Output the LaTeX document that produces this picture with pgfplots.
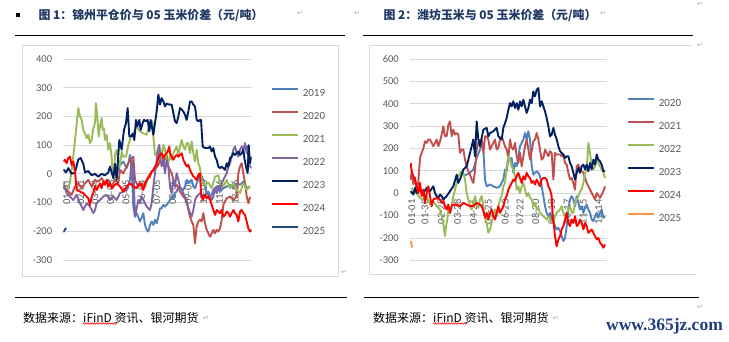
\documentclass[border=0pt]{standalone}
\usepackage{pgfplots}
\pgfplotsset{compat=1.18}
\usepackage{fontspec}
\setmainfont{Carlito}
\newfontfamily\cjk{Noto Sans CJK SC}
\newfontfamily\dejavu{DejaVu Sans}
\newfontfamily\wm{Liberation Serif}
\usetikzlibrary{decorations.pathmorphing}
\definecolor{cA}{RGB}{79,129,189}
\definecolor{cB}{RGB}{192,80,77}
\definecolor{cC}{RGB}{155,187,89}
\definecolor{cD}{RGB}{128,100,162}
\definecolor{cE}{RGB}{0,32,96}
\definecolor{cF}{RGB}{255,0,0}
\definecolor{cG}{RGB}{31,73,125}
\definecolor{cH}{RGB}{247,150,70}
\definecolor{gridc}{RGB}{217,217,217}
\definecolor{tickc}{RGB}{89,89,89}
\definecolor{titlec}{RGB}{31,56,100}
\definecolor{wmc}{RGB}{31,63,127}
\definecolor{markc}{RGB}{170,170,170}
\pgfplotsset{
  mychart/.style={
    scale only axis, axis line style={draw=none}, tick style={draw=none},
    major tick length=0pt, no markers,
    ymajorgrids, grid style={draw=gridc, line width=0.8pt},
    tick label style={font=\fontsize{10.5}{12}\selectfont, text=tickc},
    yticklabel style={anchor=east, inner sep=0pt, xshift=-11pt},
    xticklabel style={rotate=90, anchor=east, inner sep=0pt},
    legend style={draw=none, fill=none, inner sep=0pt, font=\fontsize{11}{12}\selectfont,
      text=tickc, nodes={inner sep=0pt, text height=8pt, text depth=0pt},
      row sep=14.5pt, column sep=4pt, anchor=north west},
    legend cell align=left,
    legend image code/.code={\draw[##1, line width=1.9pt] (0pt,3.5pt) -- (26pt,3.5pt);},
    every axis plot/.append style={line width=1.9pt, line join=round},
  }
}
\begin{document}
\begin{tikzpicture}
\useasboundingbox (0pt,0pt) rectangle (729pt,341pt);
% titles and rules
\fill (16pt,324pt) rectangle (20pt,328pt);
\node[anchor=west, inner sep=0pt, text=titlec] at (38.3pt,326pt) {\cjk\bfseries\fontsize{11.9}{12}\selectfont 图 1：锦州平仓价与 05 玉米价差（元/吨）};
\node[anchor=west, inner sep=0pt, text=titlec] at (383.3pt,326pt) {\cjk\bfseries\fontsize{11.9}{12}\selectfont 图 2：潍坊玉米与 05 玉米价差（元/吨）};
\draw[line width=0.9pt] (15pt,306pt) -- (345pt,306pt);
\draw[line width=0.9pt] (362.7pt,306pt) -- (693pt,306pt);
\draw[line width=0.9pt] (15pt,44pt) -- (347pt,44pt);
\draw[line width=0.9pt] (363.5pt,44pt) -- (698.6pt,44pt);
\draw[gridc, line width=0.75pt] (22.5pt,65pt) rectangle (338pt,296pt);
\draw[gridc, line width=0.75pt] (697pt,66.5pt) -- (369.3pt,66.5pt) -- (369.3pt,296pt) -- (692pt,296pt);
\node[anchor=west, inner sep=0pt] at (23pt,23pt) {\cjk\fontsize{12}{12}\selectfont 数据来源：iFinD 资讯、银河期货};
\node[anchor=west, inner sep=0pt] at (373pt,23pt) {\cjk\fontsize{12}{12}\selectfont 数据来源：iFinD 资讯、银河期货};
\draw[red, line width=0.5pt, decorate, decoration={zigzag, amplitude=0.8pt, segment length=2.2pt}] (83pt,17.5pt) -- (117pt,17.5pt);
\draw[red, line width=0.5pt, decorate, decoration={zigzag, amplitude=0.8pt, segment length=2.2pt}] (433pt,17.5pt) -- (467pt,17.5pt);
\node[anchor=west, inner sep=0pt, text=wmc] at (606pt,15pt) {\wm\bfseries\fontsize{17.5}{18}\selectfont www.365jz.com};
\foreach \mx/\my in {300/328,357/328,603/328,700/337,700/296,344/69,206/23,556/23,700/34}
  \node[text=markc, inner sep=0pt] at (\mx pt,\my pt) {\dejavu\fontsize{7}{7}\selectfont ↵};

% left chart
\begin{axis}[mychart, at={(63.3pt,81pt)}, anchor=south west,
  width=188.4pt, height=201pt, xmin=0, xmax=565, ymin=-300, ymax=400,
  ytick={-300,-200,-100,0,100,200,300,400},
  yticklabels={-300,-200,-100,0,100,200,300,400},
  xtick={10,52,95,142,188,235,280,328,375,420,468,515},
  xticklabels={01-01,02-01,03-04,04-03,05-05,06-04,07-05,08-05,09-05,10-08,11-06,12-06},
  xticklabel shift=-80pt,
  legend style={at={(1.1008,0.857)}}]
\addplot[cA] coordinates {(160,0)(170,30)(180,43)(190,20)(195,37)(200,66)(205,20)(210,-114)(215,-149)(220,-137)(230,-166)(240,-137)(245,-178)(250,-195)(255,-201)(260,-178)(265,-166)(270,-178)(275,-160)(280,-172)(285,-149)(290,-120)(295,-120)(300,-108)(305,-114)(310,-108)(320,-91)(325,-79)(330,-85)(335,-67)(340,-62)(345,-44)(350,-50)(360,-56)(365,-44)(370,-21)(375,-33)(380,-27)(385,-21)(390,-44)(395,-50)(400,-33)(410,-3)(415,-9)(420,-21)(425,-44)(430,-67)(435,-62)(440,-79)(445,-73)(450,-56)(460,-44)(470,-62)(480,-50)(490,-44)(500,-38)(510,-50)(520,-33)(530,-38)(540,-27)(550,-50)(560,-44)};
\addlegendentry{2019}
\addplot[cB] coordinates {(0,-50)(5,-50)(15,-62)(25,-73)(35,-44)(45,-33)(55,-50)(65,-33)(75,-21)(85,-44)(95,-21)(105,-27)(115,-15)(125,-33)(135,-21)(145,-44)(155,-21)(165,-33)(170,14)(180,2)(190,26)(200,49)(205,55)(210,60)(215,-21)(225,-44)(235,-33)(245,-44)(255,-9)(265,8)(275,14)(285,31)(295,60)(300,37)(310,66)(315,26)(325,2)(330,-21)(335,-44)(340,-38)(350,-62)(360,-79)(370,-91)(375,-126)(380,-149)(385,-166)(390,-178)(395,-242)(400,-183)(405,-166)(410,-160)(415,-166)(420,-137)(425,-172)(430,-195)(435,-207)(440,-219)(445,-207)(450,-195)(455,-207)(460,-195)(465,-201)(470,-190)(475,-160)(480,-108)(490,-85)(500,-79)(510,-91)(520,-79)(525,2)(530,26)(535,37)(540,2)(545,-33)(550,-79)(555,-102)(560,-80)};
\addlegendentry{2020}
\addplot[cC] coordinates {(0,-38)(10,-50)(20,-33)(30,60)(38,150)(45,229)(50,200)(55,188)(60,153)(65,141)(70,124)(75,136)(80,107)(85,118)(90,159)(95,177)(98,246)(102,200)(106,130)(110,165)(115,194)(118,153)(122,159)(125,118)(130,136)(135,84)(140,107)(145,60)(148,2)(152,-20)(155,66)(160,84)(165,49)(170,25)(175,78)(180,60)(188,60)(195,100)(203,130)(210,141)(220,165)(230,148)(240,141)(250,136)(260,177)(268,183)(270,130)(275,66)(280,66)(285,95)(290,90)(295,49)(300,101)(305,84)(310,49)(315,37)(320,66)(325,49)(330,72)(335,84)(340,95)(345,66)(350,95)(355,118)(360,95)(365,84)(370,107)(375,107)(380,72)(385,113)(390,72)(395,43)(400,84)(405,37)(410,20)(415,-21)(425,-40)(435,-30)(445,-50)(455,-10)(465,-5)(470,-33)(480,-44)(490,-21)(500,-50)(510,-33)(520,-56)(530,-67)(540,-33)(550,-56)(560,-44)};
\addlegendentry{2021}
\addplot[cD] coordinates {(0,-33)(10,-67)(20,-79)(30,-91)(40,-73)(50,-102)(60,-126)(70,-102)(80,-114)(90,-137)(95,-126)(100,-102)(110,-91)(120,-79)(130,-73)(140,-91)(150,-79)(160,-91)(170,-67)(180,-62)(190,-56)(200,-21)(205,49)(210,20)(215,-149)(220,-120)(225,-91)(230,-102)(235,-79)(240,-91)(250,-114)(260,-126)(265,-102)(270,-44)(275,2)(280,49)(285,84)(288,101)(290,60)(295,26)(300,49)(305,2)(310,49)(315,26)(320,-44)(325,-67)(330,-21)(335,-44)(340,2)(345,-21)(350,-44)(360,-67)(370,-102)(375,-120)(380,-137)(385,-149)(390,-126)(395,-91)(400,-79)(410,-67)(420,-79)(430,-67)(440,-79)(445,-91)(450,-79)(455,-50)(460,-67)(465,-44)(470,-56)(475,-33)(480,-21)(485,-9)(490,2)(495,26)(500,37)(505,60)(510,84)(515,95)(520,72)(525,60)(530,84)(535,95)(540,84)(545,107)(550,72)(553,95)(556,37)(560,26)(565,20)};
\addlegendentry{2022}
\addplot[cE] coordinates {(0,15)(8,5)(15,20)(25,0)(35,5)(45,50)(52,55)(60,35)(65,5)(75,10)(85,-5)(95,0)(105,-10)(115,0)(125,-5)(135,5)(140,25)(150,-15)(155,35)(160,-20)(168,118)(175,84)(182,153)(188,177)(193,229)(198,130)(203,130)(208,140)(213,118)(218,188)(222,165)(228,188)(232,153)(238,177)(242,188)(248,183)(253,188)(258,148)(262,188)(270,136)(275,177)(280,217)(285,276)(290,241)(295,264)(300,252)(305,235)(310,245)(318,241)(325,241)(330,212)(335,183)(340,177)(345,200)(350,229)(355,224)(360,217)(365,206)(370,188)(375,217)(380,252)(385,252)(390,241)(395,235)(400,188)(405,183)(410,188)(413,188)(418,95)(425,90)(430,90)(435,90)(440,95)(445,78)(450,90)(455,60)(460,49)(465,25)(470,20)(475,25)(480,20)(485,14)(490,37)(495,25)(500,55)(505,60)(510,72)(515,66)(520,72)(525,78)(530,66)(535,72)(540,84)(543,55)(546,37)(550,14)(553,3)(556,100)(560,37)(563,60)};
\addlegendentry{2023}
\addplot[cF] coordinates {(0,43)(5,49)(10,37)(15,55)(20,60)(25,31)(30,43)(35,8)(40,-56)(50,-62)(60,-67)(70,-79)(75,-85)(80,-108)(85,-79)(90,-67)(95,-44)(100,-56)(105,-44)(110,-33)(115,-50)(120,-27)(125,-38)(130,-21)(135,-44)(140,-33)(145,-50)(150,-44)(160,-33)(170,-44)(180,-62)(190,-44)(200,-33)(210,-44)(220,-50)(225,-38)(230,-33)(235,-44)(240,-56)(245,-33)(250,-21)(260,-9)(265,8)(270,14)(275,26)(280,31)(285,55)(290,66)(295,72)(300,55)(305,66)(310,72)(315,84)(318,95)(320,72)(325,60)(330,49)(335,60)(340,66)(345,60)(350,66)(355,72)(360,49)(365,37)(370,26)(375,31)(380,14)(385,2)(390,-9)(395,-15)(400,-21)(405,-3)(410,2)(413,-67)(418,-91)(425,-73)(430,-85)(435,-79)(440,-91)(445,-108)(450,-126)(455,-143)(460,-126)(465,-131)(470,-137)(475,-126)(480,-149)(485,-143)(490,-131)(495,-137)(500,-149)(505,-137)(510,-126)(515,-137)(520,-143)(525,-166)(530,-131)(535,-126)(540,-137)(545,-143)(550,-166)(555,-190)(560,-201)(565,-195)};
\addlegendentry{2024}
\addplot[cG] coordinates {(0,-203)(3,-198)(6,-192)(9,-189)};
\addlegendentry{2025}
\end{axis}

% right chart
\begin{axis}[mychart, at={(410pt,80.7pt)}, anchor=south west,
  width=196.7pt, height=201.3pt, xmin=0, xmax=590, ymin=-300, ymax=600,
  ytick={-300,-200,-100,0,100,200,300,400,500,600},
  yticklabels={-300,-200,-100,0,100,200,300,400,500,600},
  xtick={5,45,93,142,190,235,285,330,377,425,472,520,565},
  xticklabels={01-01,01-30,02-28,03-28,04-26,05-25,06-23,07-22,08-20,09-18,10-17,11-15,12-14},
  xticklabel shift=-61pt,
  legend style={at={(1.1017,0.805)}}]
\addplot[cA] coordinates {(165,80)(180,91)(190,106)(200,158)(210,195)(215,225)(220,195)(225,61)(230,31)(240,39)(250,31)(260,24)(270,31)(280,61)(285,106)(290,98)(295,158)(300,150)(305,158)(310,91)(315,135)(320,120)(325,165)(330,210)(335,225)(340,240)(345,269)(350,240)(355,277)(360,240)(365,120)(370,83)(375,91)(380,98)(385,91)(390,76)(395,31)(400,-13)(405,-58)(410,-88)(415,-103)(420,-88)(425,-117)(430,-125)(435,-147)(440,-162)(445,-155)(450,-170)(455,-192)(460,-214)(465,-200)(470,-147)(475,-73)(480,-28)(485,-13)(490,-28)(495,-58)(500,-13)(505,-43)(510,-73)(515,-58)(520,-88)(525,-65)(530,-51)(535,-73)(540,-88)(545,-117)(550,-125)(555,-103)(560,-88)(565,-110)(570,-88)(575,-73)(580,-110)(585,-103)};
\addlegendentry{2020}
\addplot[cB] coordinates {(2,60)(5,98)(10,40)(15,70)(20,9)(25,50)(30,158)(35,180)(40,200)(45,232)(50,225)(55,240)(60,240)(65,225)(70,210)(75,225)(80,240)(85,210)(90,232)(95,262)(100,299)(105,255)(110,255)(115,306)(120,321)(125,255)(130,284)(135,262)(140,269)(145,262)(150,180)(155,195)(160,195)(165,150)(170,120)(175,98)(180,83)(185,61)(190,46)(195,100)(200,195)(205,225)(210,240)(215,240)(220,180)(225,254)(230,254)(235,240)(240,195)(250,225)(255,240)(260,195)(265,203)(270,240)(275,254)(280,232)(285,210)(290,195)(295,158)(300,240)(305,203)(310,195)(315,225)(320,165)(325,135)(330,180)(335,120)(340,165)(345,210)(350,240)(355,195)(360,150)(365,188)(370,232)(375,240)(380,269)(385,240)(390,195)(395,150)(400,158)(405,195)(410,180)(415,165)(420,188)(425,180)(430,61)(435,180)(440,173)(445,173)(450,173)(455,165)(460,173)(465,135)(470,128)(475,91)(480,61)(485,68)(490,46)(495,16)(500,120)(505,128)(510,106)(520,91)(530,46)(540,16)(545,1)(550,-13)(555,-28)(560,1)(570,-21)(575,-6)(580,9)(585,31)};
\addlegendentry{2021}
\addplot[cC] coordinates {(5,24)(10,9)(20,0)(30,-21)(40,-28)(50,-13)(60,-51)(70,-36)(80,-58)(90,-73)(95,-103)(100,-140)(105,-192)(108,-147)(112,-118)(115,-73)(120,-88)(125,-58)(130,-13)(135,16)(140,46)(145,76)(150,91)(155,98)(160,91)(165,61)(170,1)(175,-28)(180,-58)(185,-73)(190,-43)(195,-13)(200,-51)(205,-66)(210,-28)(215,-13)(220,-58)(225,-103)(230,-132)(235,-177)(240,-162)(245,-132)(250,-95)(255,-73)(260,-103)(265,-58)(270,-28)(275,-13)(280,31)(285,46)(290,120)(295,165)(300,150)(305,120)(310,106)(315,76)(320,16)(325,31)(330,1)(335,31)(340,46)(345,16)(350,-13)(355,1)(360,-21)(365,-28)(370,-58)(375,-43)(380,-73)(385,-66)(390,-88)(395,-95)(400,-103)(405,-110)(410,-118)(415,-103)(420,-118)(425,-132)(430,-125)(435,-103)(440,-88)(445,-80)(450,-73)(455,-58)(460,-88)(465,-103)(470,-88)(475,-73)(480,-58)(485,-88)(490,-88)(495,-43)(500,-28)(505,-13)(510,9)(515,16)(520,46)(525,91)(530,106)(535,225)(540,180)(545,120)(550,106)(555,120)(560,150)(565,135)(570,120)(575,106)(580,91)(585,68)};
\addlegendentry{2022}
\addplot[cE] coordinates {(2,9)(10,-6)(15,24)(20,1)(30,16)(40,1)(50,24)(60,9)(70,31)(75,1)(80,-13)(85,-21)(90,-6)(95,-13)(100,-28)(110,-13)(120,9)(130,31)(140,83)(145,46)(150,61)(160,106)(170,120)(180,180)(190,240)(195,165)(200,321)(205,240)(210,210)(220,284)(230,292)(235,254)(240,269)(250,277)(260,292)(265,254)(275,240)(280,292)(290,336)(295,373)(300,403)(305,388)(310,411)(315,381)(320,403)(325,373)(330,411)(335,388)(340,418)(345,388)(350,359)(355,381)(360,418)(365,403)(370,455)(375,433)(380,463)(385,470)(390,388)(395,411)(400,388)(405,366)(410,336)(415,299)(420,254)(425,262)(430,292)(435,262)(440,240)(445,210)(450,188)(455,180)(460,173)(465,158)(470,165)(475,165)(480,135)(485,120)(490,91)(495,61)(500,91)(505,113)(510,91)(515,120)(520,128)(525,106)(530,128)(535,98)(540,135)(545,106)(550,150)(555,128)(560,173)(565,150)(570,143)(575,128)(580,98)(585,98)};
\addlegendentry{2023}
\addplot[cF] coordinates {(2,135)(5,98)(10,76)(15,61)(20,31)(25,1)(30,46)(35,-13)(40,16)(45,-43)(50,1)(55,31)(60,-13)(65,-58)(70,-28)(80,-21)(90,-28)(95,-43)(100,-36)(105,-58)(110,-73)(115,-51)(120,-88)(125,-58)(130,-51)(140,-51)(150,-58)(160,-43)(170,-51)(180,-58)(190,-58)(200,-43)(210,-51)(215,-58)(220,-80)(225,-110)(230,-88)(235,-118)(240,-88)(245,-73)(250,-103)(255,-118)(260,-88)(265,-58)(270,-88)(275,-73)(280,-58)(285,-28)(290,-13)(295,16)(300,31)(305,46)(310,61)(315,54)(320,76)(325,91)(330,68)(335,46)(340,76)(345,61)(350,91)(355,76)(360,68)(365,46)(370,54)(375,39)(380,61)(385,46)(390,31)(395,61)(400,68)(405,68)(410,61)(415,31)(420,16)(425,-13)(428,-103)(432,-147)(435,-192)(440,-237)(445,-207)(450,-192)(455,-162)(460,-147)(465,-118)(470,-88)(475,-133)(480,-147)(485,-118)(490,-133)(495,-103)(500,-147)(505,-140)(510,-118)(515,-133)(520,-162)(525,-133)(530,-147)(535,-177)(540,-170)(545,-162)(550,-177)(555,-192)(560,-207)(565,-200)(570,-222)(575,-229)(580,-244)(585,-229)};
\addlegendentry{2024}
\addplot[cH] coordinates {(2,-214)(4,-221)(6,-243)};
\addlegendentry{2025}
\end{axis}
\end{tikzpicture}
\end{document}
